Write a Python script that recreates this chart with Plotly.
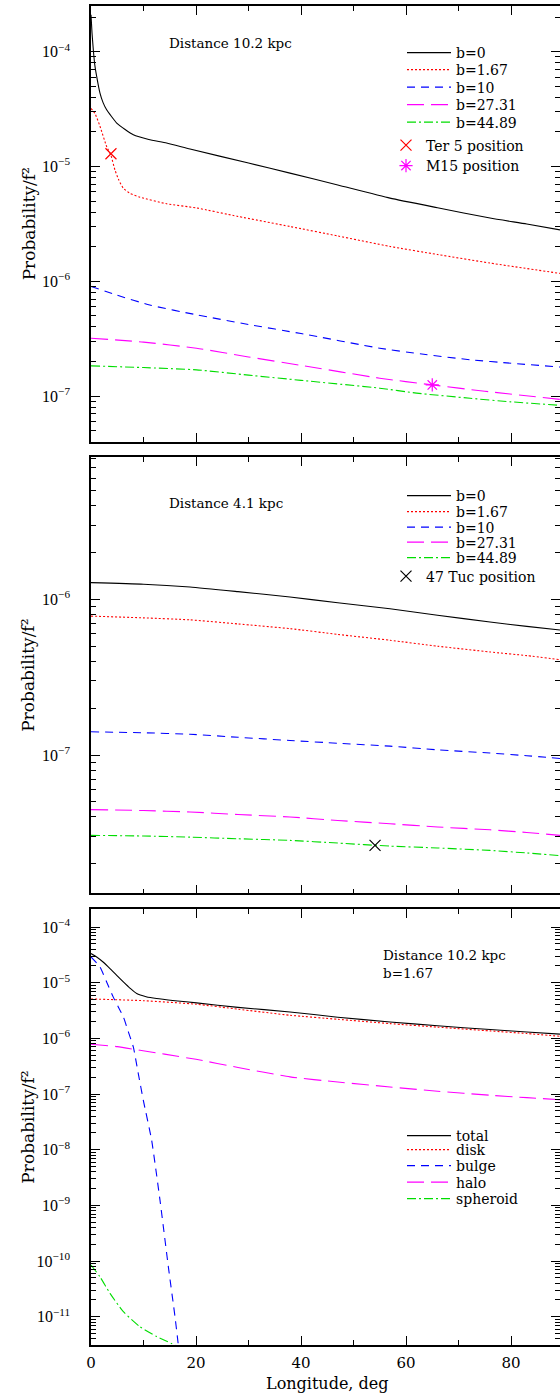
import plotly.graph_objects as go

FONT = "DejaVu Serif"
FONT_Y = "Liberation Serif"

# ---------------- Panel 1 (top): Distance 10.2 kpc ----------------
p1_b0_l = [0, 0.19, 0.44, 0.7, 1.08, 1.71, 2.3, 2.98, 4.9, 6.5, 8.06, 11, 14.4, 18.86, 30, 37.9, 47, 56.95, 66, 76, 83, 89.33]
p1_b0_p = [2.1e-4, 1.46e-4, 1.04e-4, 7.8e-5, 6.1e-5, 4.36e-5, 3.6e-5, 3.12e-5, 2.39e-5, 2.1e-5, 1.89e-5, 1.72e-5, 1.6e-5, 1.42e-5,
           1.07e-5, 8.75e-6, 6.9e-6, 5.3e-6, 4.37e-6, 3.55e-6, 3.15e-6, 2.8e-6]

p1_b167_l = [0, 0.76, 1.71, 2.98, 3.8, 4.57, 5.3, 6.16, 7.5, 9.33, 14.4, 20.1, 28, 37.9, 47, 56.95, 66, 76, 89.33]
p1_b167_p = [3.2e-5, 2.9e-5, 2.24e-5, 1.49e-5, 1.25e-5, 9.3e-6, 7.6e-6, 6.45e-6, 5.8e-6, 5.4e-6, 4.73e-6, 4.35e-6, 3.67e-6,
             3.0e-6, 2.48e-6, 2.01e-6, 1.71e-6, 1.44e-6, 1.17e-6]

p1_b10_l = [0, 4.9, 11.2, 20.1, 30, 40, 55, 63, 72.2, 80, 89.33]
p1_b10_p = [9.0e-7, 7.58e-7, 6.2e-7, 5.1e-7, 4.2e-7, 3.5e-7, 2.61e-7, 2.32e-7, 2.07e-7, 1.93e-7, 1.79e-7]

p1_b2731_l = [0, 10, 20.1, 30, 40, 55, 65, 75, 89.33]
p1_b2731_p = [3.19e-7, 2.95e-7, 2.61e-7, 2.19e-7, 1.85e-7, 1.43e-7, 1.25e-7, 1.1e-7, 9.35e-8]

p1_b4489_l = [0, 10, 20.1, 30, 40, 55, 62, 72.2, 80, 89.33]
p1_b4489_p = [1.83e-7, 1.77e-7, 1.69e-7, 1.52e-7, 1.37e-7, 1.17e-7, 1.06e-7, 9.56e-8, 8.9e-8, 8.3e-8]

ter5_l, ter5_p = [3.8], [1.29e-5]
m15_l, m15_p = [65.0], [1.25e-7]

# ---------------- Panel 2 (middle): Distance 4.1 kpc ----------------
p2_l = [0, 10, 18.86, 28, 37.9, 47, 56.95, 66, 76, 83, 89.33]
p2_b0_p = [1.28e-6, 1.25e-6, 1.2e-6, 1.12e-6, 1.035e-6, 9.5e-7, 8.7e-7, 7.9e-7, 7.15e-7, 6.7e-7, 6.35e-7]
p2_b167_p = [7.8e-7, 7.6e-7, 7.38e-7, 6.95e-7, 6.48e-7, 5.95e-7, 5.46e-7, 5.0e-7, 4.59e-7, 4.35e-7, 4.1e-7]
p2_b10_p = [1.41e-7, 1.39e-7, 1.36e-7, 1.3e-7, 1.24e-7, 1.19e-7, 1.14e-7, 1.08e-7, 1.03e-7, 9.9e-8, 9.5e-8]
p2_b2731_p = [4.46e-8, 4.4e-8, 4.31e-8, 4.15e-8, 4.0e-8, 3.8e-8, 3.62e-8, 3.45e-8, 3.31e-8, 3.18e-8, 3.05e-8]
p2_b4489_p = [3.05e-8, 3.02e-8, 2.97e-8, 2.9e-8, 2.83e-8, 2.72e-8, 2.6e-8, 2.53e-8, 2.44e-8, 2.35e-8, 2.26e-8]

tuc47_l, tuc47_p = [54.1], [2.63e-8]

# ---------------- Panel 3 (bottom): Distance 10.2 kpc, b=1.67 ----------------
p3_total_l = [0, 1.08, 2.3, 3.62, 4.9, 6.16, 7.4, 8.7, 10.5, 12.5, 16, 20.1, 28, 37.9, 47, 56.95, 66, 76, 83, 89.33]
p3_total_p = [3.33e-5, 2.9e-5, 2.35e-5, 1.79e-5, 1.35e-5, 1.03e-5, 8.0e-6, 6.37e-6, 5.6e-6, 5.19e-6, 4.75e-6, 4.33e-6,
              3.6e-6, 2.98e-6, 2.4e-6, 1.97e-6, 1.68e-6, 1.44e-6, 1.3e-6, 1.19e-6]

p3_disk_l = [0, 10, 20.1, 28, 37.9, 47, 56.95, 66, 76, 83, 89.33]
p3_disk_p = [5.1e-6, 4.75e-6, 4.1e-6, 3.34e-6, 2.6e-6, 2.2e-6, 1.84e-6, 1.59e-6, 1.36e-6, 1.22e-6, 1.09e-6]

p3_bulge_l = [0, 1.71, 3.0, 4.25, 5.2, 6.16, 7.1, 8.06, 9.0, 9.97, 11.55, 13.14, 14.73, 16.0, 16.6, 17.0]
p3_bulge_p = [2.9e-5, 1.91e-5, 1.02e-5, 5.5e-6, 3.67e-6, 2.43e-6, 1.32e-6, 7.0e-7, 2.35e-7, 7.7e-8, 1.48e-8, 1.24e-9,
              7.9e-11, 1.0e-11, 3.3e-12, 1.5e-12]

p3_halo_l = [0, 5, 9.33, 14, 20, 28, 37.9, 47, 56.95, 66, 76, 83, 89.33]
p3_halo_p = [7.83e-7, 7.1e-7, 6.1e-7, 5.2e-7, 4.2e-7, 3.0e-7, 2.03e-7, 1.64e-7, 1.34e-7, 1.12e-7, 9.5e-8, 8.6e-8, 7.9e-8]

p3_sph_l = [0, 1.71, 3.62, 6.16, 9.33, 12.5, 15.35, 16.5, 17.5]
p3_sph_p = [8.5e-11, 5.2e-11, 2.63e-11, 1.23e-11, 6.6e-12, 4.4e-12, 3.3e-12, 2.9e-12, 2.6e-12]

# y tick decades per panel
p1_decades = [-7, -6, -5, -4]
p2_decades = [-7, -6]
p3_decades = [-11, -10, -9, -8, -7, -6, -5, -4]

# ---------------- Styles ----------------
ST = {
    "b0": dict(color="black", dash="solid"),
    "b167": dict(color="red", dash="2px,2px"),
    "b10": dict(color="blue", dash="8px,6px"),
    "b2731": dict(color="magenta", dash="17px,7px"),
    "b4489": dict(color="#00dd00", dash="9px,3px,2px,3px"),
}

W, H = 560, 1393
ML, MR, MT, MB = 91, 0, 6, 48
PW, PH = W - ML - MR, H - MT - MB


def fx(px):
    return (px - ML) / PW


def fy(py):
    return (H - MB - py) / PH


fig = go.Figure()
legends = {}
leg_font = dict(family=FONT, size=14, color="black")


def new_legend(x_px, y_px, itemwidth):
    name = "legend" if not legends else "legend%d" % (len(legends) + 1)
    legends[name] = dict(font=leg_font, bgcolor="rgba(0,0,0,0)", xanchor="left", yanchor="middle",
                         itemwidth=itemwidth, x=fx(x_px), y=fy(y_px), borderwidth=0)
    return name


LINE_LX = 402
MARK_LX = 386


def add_line(x, y, name, st, xa, ya, ly):
    fig.add_trace(go.Scatter(
        x=x, y=y, mode="lines", name=name, xaxis=xa, yaxis=ya,
        line=dict(color=st["color"], dash=st["dash"], width=1.1, shape="spline", smoothing=0.5),
        legend=new_legend(LINE_LX, ly, 44), hoverinfo="skip"))


def add_mark(x, y, name, sym, color, xa, ya, ly):
    fig.add_trace(go.Scatter(
        x=x, y=y, mode="markers", name=name, xaxis=xa, yaxis=ya,
        marker=dict(symbol=sym, size=11, color=color, line=dict(width=1.2, color=color)),
        legend=new_legend(MARK_LX, ly, 30), hoverinfo="skip"))


# top
add_line(p1_b0_l, p1_b0_p, "b=0", ST["b0"], "x", "y", 53)
add_line(p1_b167_l, p1_b167_p, "b=1.67", ST["b167"], "x", "y", 70)
add_line(p1_b10_l, p1_b10_p, "b=10", ST["b10"], "x", "y", 87.5)
add_line(p1_b2731_l, p1_b2731_p, "b=27.31", ST["b2731"], "x", "y", 105)
add_line(p1_b4489_l, p1_b4489_p, "b=44.89", ST["b4489"], "x", "y", 122.5)
add_mark(ter5_l, ter5_p, "Ter 5 position", "x-thin", "red", "x", "y", 145.5)
add_mark(m15_l, m15_p, "M15 position", "asterisk", "magenta", "x", "y", 166)

# middle
add_line(p2_l, p2_b0_p, "b=0", ST["b0"], "x2", "y2", 496)
add_line(p2_l, p2_b167_p, "b=1.67", ST["b167"], "x2", "y2", 512)
add_line(p2_l, p2_b10_p, "b=10", ST["b10"], "x2", "y2", 527.5)
add_line(p2_l, p2_b2731_p, "b=27.31", ST["b2731"], "x2", "y2", 542.5)
add_line(p2_l, p2_b4489_p, "b=44.89", ST["b4489"], "x2", "y2", 558)
add_mark(tuc47_l, tuc47_p, "47 Tuc position", "x-thin", "black", "x2", "y2", 576.5)

# bottom
add_line(p3_total_l, p3_total_p, "total", ST["b0"], "x3", "y3", 1136)
add_line(p3_disk_l, p3_disk_p, "disk", ST["b167"], "x3", "y3", 1150)
add_line(p3_bulge_l, p3_bulge_p, "bulge", ST["b10"], "x3", "y3", 1166)
add_line(p3_halo_l, p3_halo_p, "halo", ST["b2731"], "x3", "y3", 1182.5)
add_line(p3_sph_l, p3_sph_p, "spheroid", ST["b4489"], "x3", "y3", 1199)

# ---------------- Axes ----------------
minor_y = [m * 10.0 ** e for e in range(-13, -2) for m in range(2, 10)]

axis_common = dict(showline=True, linecolor="black", linewidth=1.6, mirror="allticks",
                   ticks="inside", tickcolor="black", showgrid=False, zeroline=False)


def xax(anchor, labels):
    return dict(axis_common, range=[0, 89.33], tickmode="linear", tick0=0, dtick=20, ticklen=9, tickwidth=1.2,
                minor=dict(ticks="inside", dtick=10, tick0=0, ticklen=5, tickwidth=1, tickcolor="black"),
                anchor=anchor, showticklabels=labels, ticklabelstandoff=3,
                tickfont=dict(family=FONT, size=15, color="black"))


def yax(rng, dom, anchor, decades):
    return dict(axis_common, type="log", range=rng, domain=dom, anchor=anchor,
                tickmode="array", tickvals=[10.0 ** d for d in decades],
                ticktext=["10<sup>\u2212%d</sup>" % (-d) for d in decades],
                ticklen=9, tickwidth=1.2, ticklabelstandoff=16,
                tickfont=dict(family=FONT_Y, size=16, color="black"),
                minor=dict(ticks="inside", tickmode="array", tickvals=minor_y, ticklen=5, tickwidth=1,
                           tickcolor="black"))


fig.update_layout(
    width=W, height=H, margin=dict(l=ML, r=MR, t=MT, b=MB, autoexpand=False),
    paper_bgcolor="white", plot_bgcolor="white", showlegend=True,
    xaxis=xax("y", False),
    yaxis=yax([-7.398, -3.602], [fy(441.7), fy(6)], "x", p1_decades),
    xaxis2=xax("y2", False),
    yaxis2=yax([-7.888, -5.088], [fy(893.3), fy(457.3)], "x2", p2_decades),
    xaxis3=xax("y3", True),
    yaxis3=yax([-11.508, -3.682], [fy(1345), fy(909.3)], "x3", p3_decades),
    **legends
)

ann_font = dict(family=FONT, size=13.5, color="black")
annotations = [
    dict(text="Distance 10.2 kpc", x=fx(167), y=fy(43), xanchor="left", yanchor="middle"),
    dict(text="Distance 4.1 kpc", x=fx(167), y=fy(503), xanchor="left", yanchor="middle"),
    dict(text="Distance 10.2 kpc", x=fx(381), y=fy(955), xanchor="left", yanchor="middle"),
    dict(text="b=1.67", x=fx(381), y=fy(973), xanchor="left", yanchor="middle"),
]
for a in annotations:
    fig.add_annotation(xref="paper", yref="paper", showarrow=False, font=ann_font, **a)

for cy in [(6 + 441.7) / 2, (457.3 + 893.3) / 2, (909.3 + 1345) / 2]:
    fig.add_annotation(xref="paper", yref="paper", x=fx(28.5), y=fy(cy), text="Probability/f²",
                       textangle=-90, showarrow=False, xanchor="center", yanchor="middle",
                       font=dict(family=FONT, size=17, color="black"))

fig.add_annotation(xref="paper", yref="paper", x=fx(327), y=fy(1383.5), text="Longitude, deg",
                   showarrow=False, xanchor="center", yanchor="middle",
                   font=dict(family=FONT, size=16, color="black"))

fig.write_html("out.html", config={"displayModeBar": False},
               post_script="document.body.style.margin='0px';document.body.style.overflow='hidden';")
